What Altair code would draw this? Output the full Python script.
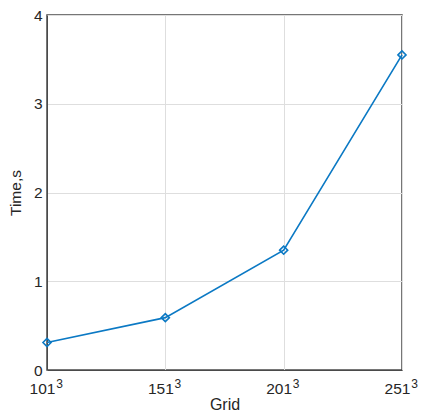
import altair as alt
import pandas as pd

grid_n = [101, 151, 201, 251]
grid_exp = ["3", "3", "3", "3"]
time_s = [0.31, 0.59, 1.35, 3.55]
y_ticks = [0, 1, 2, 3, 4]

df = pd.DataFrame({"grid": grid_n, "time": time_s, "exp": grid_exp})

FONT = "Liberation Sans"
LINE = "#0b79c4"
TXT = "#262626"
AX = "#4a4a4a"
GRID = "#dedede"

x = alt.X("grid:Q", title="Grid",
          scale=alt.Scale(domain=[101, 251], nice=False, zero=False),
          axis=alt.Axis(values=grid_n, format="d",
                        grid=True, gridColor=GRID, ticks=False,
                        domainColor=AX, labelPadding=11, titlePadding=0,
                        labelOffset=-5,
                        labelFontSize=15.5, titleFontSize=16, labelColor=TXT,
                        titleColor=TXT, titleFontWeight="normal",
                        labelFont=FONT, titleFont=FONT, labelFlush=False))
y = alt.Y("time:Q", title="Time,s",
          scale=alt.Scale(domain=[0, 4], nice=False),
          axis=alt.Axis(values=y_ticks, format="d", grid=True, gridColor=GRID,
                        ticks=False, domainColor=AX, labelPadding=5,
                        titlePadding=10, labelFontSize=15.5, titleFontSize=15.5,
                        labelColor=TXT, titleColor=TXT,
                        titleFontWeight="normal", labelFont=FONT, titleFont=FONT,
                        labelFlush=False))

line = alt.Chart(df).mark_line(color=LINE, strokeWidth=1.6).encode(x=x, y=y)
pts = alt.Chart(df).mark_point(shape="diamond", filled=False, color=LINE,
                               size=65, strokeWidth=1.6, opacity=1).encode(x=x, y=y)
sup = alt.Chart(df).mark_text(font=FONT, fontSize=12, color=TXT, dx=12.5, dy=18,
                              baseline="alphabetic", align="center").encode(
    x=alt.X("grid:Q"), y=alt.datum(0), text="exp:N")

chart = (line + pts + sup).properties(
    width=355, height=355,
    autosize=alt.AutoSizeParams(type="none"),
    padding={"left": 39, "top": 7, "right": 17, "bottom": 42},
).configure_view(stroke=AX, strokeWidth=1.5)

chart.save("out.html", embed_options={"renderer": "svg", "actions": False})
